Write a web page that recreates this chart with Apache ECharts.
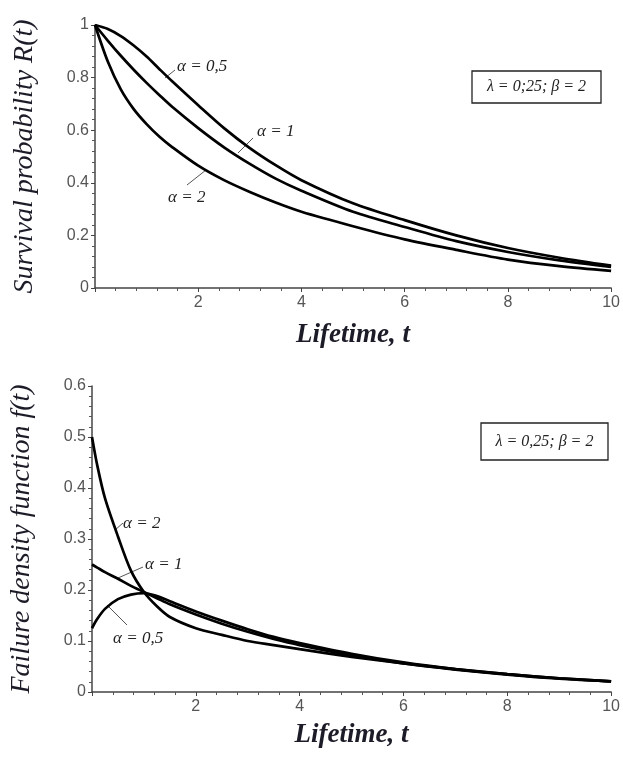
<!DOCTYPE html>
<html>
<head>
<meta charset="utf-8">
<script src="https://cdn.jsdelivr.net/npm/echarts@6/dist/echarts.min.js"></script>
<style>
    html, body {
        margin: 0;
        padding: 0;
        background: #fff;
    }

    #chart {
        width: 623px;
        height: 760px;
    }
</style>
</head>
<body>
<div id="chart"></div>
<script>
    // 上图：生存概率 R(t)
    var tTop = [0, 0.25, 0.5, 0.75, 1, 1.25, 1.5, 2, 2.5, 3, 3.5, 4, 5, 6, 7, 8, 9, 10];
    var rA05 = [1, 0.985, 0.958, 0.922, 0.88, 0.832, 0.785, 0.695, 0.608, 0.532, 0.467, 0.41, 0.322, 0.258, 0.2, 0.152, 0.115, 0.085];
    var rA1 = [1, 0.94, 0.883, 0.83, 0.78, 0.733, 0.688, 0.608, 0.535, 0.472, 0.416, 0.37, 0.29, 0.232, 0.178, 0.137, 0.105, 0.08];
    var rA2 = [1, 0.86, 0.755, 0.68, 0.623, 0.575, 0.535, 0.465, 0.41, 0.365, 0.325, 0.29, 0.235, 0.185, 0.145, 0.108, 0.083, 0.065];

    // 下图：失效密度 f(t)
    var tBot = [0, 0.1, 0.25, 0.5, 0.75, 1, 1.25, 1.5, 2, 2.5, 3, 3.5, 4, 5, 6, 7, 8, 9, 10];
    var fA2 = [0.5, 0.445, 0.38, 0.305, 0.238, 0.196, 0.168, 0.147, 0.125, 0.112, 0.1, 0.092, 0.084, 0.069, 0.056, 0.045, 0.035, 0.027, 0.021];
    var fA1 = [0.25, 0.244, 0.235, 0.222, 0.208, 0.196, 0.184, 0.172, 0.152, 0.134, 0.118, 0.104, 0.092, 0.072, 0.056, 0.044, 0.034, 0.026, 0.021];
    var fA05 = [0.125, 0.143, 0.163, 0.182, 0.191, 0.194, 0.188, 0.178, 0.158, 0.14, 0.123, 0.108, 0.096, 0.075, 0.058, 0.045, 0.035, 0.027, 0.021];

    var pairs = function(xs, ys) {
        return xs.map(function(x, i) {
            return [x, ys[i]];
        });
    };

    var serif = '"Liberation Serif", "DejaVu Serif", serif';
    var sans = '"Liberation Sans", Arial, sans-serif';
    var ink = '#1c1c28';

    var xAxisBase = function(gridIndex, gap) {
        return {
            type: 'value',
            gridIndex: gridIndex,
            min: 0,
            max: 10,
            interval: 2,
            name: 'Lifetime, t',
            nameLocation: 'middle',
            nameGap: gap,
            nameTextStyle: {
                fontFamily: serif,
                fontStyle: 'italic',
                fontWeight: 'bold',
                fontSize: 27,
                color: ink
            },
            axisLine: {
                onZero: false,
                lineStyle: { color: '#444', width: 1.5 }
            },
            axisTick: { length: 4, lineStyle: { color: '#444' } },
            minorTick: { show: true, splitNumber: 5, length: 3, lineStyle: { color: '#555' } },
            splitLine: { show: false },
            axisLabel: {
                fontFamily: sans,
                fontSize: 16,
                color: '#555',
                margin: 7,
                formatter: function(v) {
                    return v === 0 ? '' : v;
                }
            }
        };
    };

    var yAxisBase = function(gridIndex, max, step, title) {
        return {
            type: 'value',
            gridIndex: gridIndex,
            min: 0,
            max: max,
            interval: step,
            name: title,
            nameLocation: 'middle',
            nameRotate: 90,
            nameGap: 56,
            nameTextStyle: {
                fontFamily: serif,
                fontStyle: 'italic',
                fontSize: 28,
                color: ink
            },
            axisLine: {
                show: true,
                lineStyle: { color: '#444', width: 1.5 }
            },
            axisTick: { show: true, length: 4, lineStyle: { color: '#444' } },
            minorTick: { show: true, splitNumber: 5, length: 3, lineStyle: { color: '#555' } },
            splitLine: { show: false },
            axisLabel: {
                fontFamily: sans,
                fontSize: 16,
                color: '#555',
                margin: 6
            }
        };
    };

    var curve = function(name, xIdx, yIdx, data) {
        return {
            name: name,
            type: 'line',
            xAxisIndex: xIdx,
            yAxisIndex: yIdx,
            data: data,
            smooth: 0.3,
            showSymbol: false,
            silent: true,
            lineStyle: { color: '#000', width: 2.7 }
        };
    };

    var note = function(x, y, txt, size) {
        return {
            type: 'text',
            x: x,
            y: y,
            style: {
                text: txt,
                fontFamily: serif,
                fontStyle: 'italic',
                fontSize: size || 17,
                fill: '#222',
                textVerticalAlign: 'middle'
            }
        };
    };

    var lead = function(x1, y1, x2, y2) {
        return {
            type: 'line',
            shape: { x1: x1, y1: y1, x2: x2, y2: y2 },
            style: { stroke: '#555', lineWidth: 1 }
        };
    };

    var box = function(x, y, w, h, txt) {
        return {
            type: 'group',
            x: x,
            y: y,
            children: [{
                type: 'rect',
                shape: { x: 0, y: 0, width: w, height: h },
                style: { fill: '#fff', stroke: '#222', lineWidth: 1.3 }
            }, {
                type: 'text',
                x: w / 2,
                y: h / 2,
                style: {
                    text: txt,
                    fontFamily: serif,
                    fontStyle: 'italic',
                    fontSize: 16,
                    fill: '#222',
                    textAlign: 'center',
                    textVerticalAlign: 'middle'
                }
            }]
        };
    };

    var myChart = echarts.init(document.getElementById('chart'));

    var option = {
        animation: false,
        grid: [{
            left: 95,
            top: 25,
            width: 525,
            height: 263
        }, {
            left: 92,
            top: 386,
            width: 521,
            height: 306
        }],
        xAxis: [xAxisBase(0, 34), xAxisBase(1, 30)],
        yAxis: [
            yAxisBase(0, 1, 0.2, 'Survival probability R(t)'),
            yAxisBase(1, 0.6, 0.1, 'Failure density function f(t)')
        ],
        series: [
            curve('α = 0,5', 0, 0, pairs(tTop, rA05)),
            curve('α = 1', 0, 0, pairs(tTop, rA1)),
            curve('α = 2', 0, 0, pairs(tTop, rA2)),
            curve('α = 2', 1, 1, pairs(tBot, fA2)),
            curve('α = 1', 1, 1, pairs(tBot, fA1)),
            curve('α = 0,5', 1, 1, pairs(tBot, fA05))
        ],
        graphic: [
            // 上图标注
            lead(165, 78, 175, 70),
            note(177, 67, 'α = 0,5'),
            lead(238, 153, 253, 138),
            note(257, 132, 'α = 1'),
            lead(187, 185, 206, 170),
            note(168, 198, 'α = 2'),
            box(472, 71, 129, 32, 'λ = 0;25; β = 2'),
            // 下图标注
            lead(115, 530, 123, 523),
            note(123, 524, 'α = 2'),
            lead(118, 578, 143, 567),
            note(145, 565, 'α = 1'),
            lead(107, 605, 127, 625),
            note(113, 639, 'α = 0,5'),
            box(481, 423, 127, 37, 'λ = 0,25; β = 2')
        ]
    };

    myChart.setOption(option);
</script>
</body>
</html>
